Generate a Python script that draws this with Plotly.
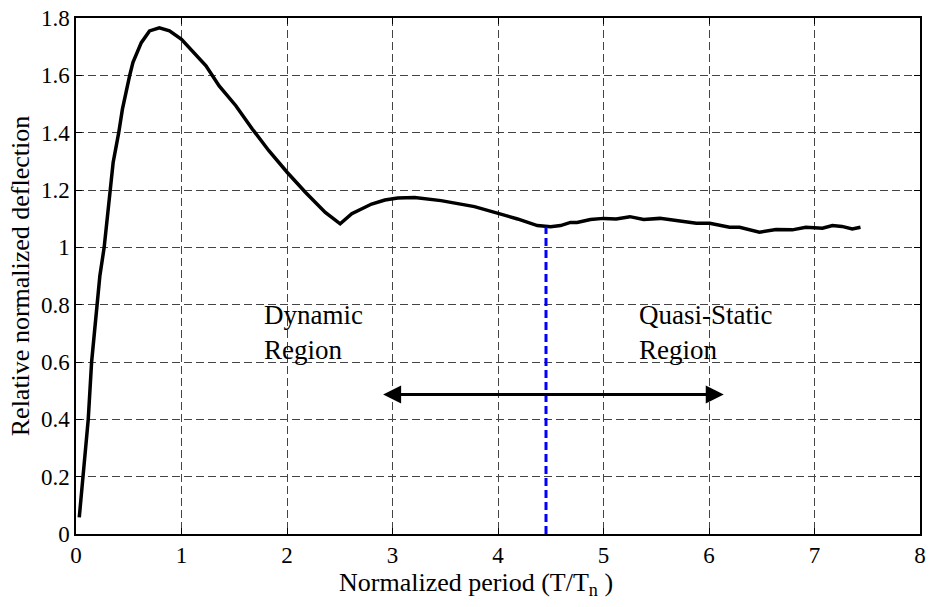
import plotly.graph_objects as go

# Curve data (normalized period vs relative normalized deflection)
period = [0.031, 0.069, 0.116, 0.148, 0.195, 0.226, 0.267, 0.32, 0.352, 0.405, 0.44, 0.509,
          0.54, 0.619, 0.697, 0.79, 0.886, 1.0, 1.106, 1.232, 1.357, 1.515, 1.671, 1.828,
          2.001, 2.174, 2.363, 2.504, 2.614, 2.802, 2.928, 3.05, 3.21, 3.46, 3.777, 4.027,
          4.185, 4.373, 4.499, 4.593, 4.687, 4.75, 4.876, 5.0, 5.12, 5.25, 5.38, 5.535,
          5.69, 5.88, 6.007, 6.195, 6.29, 6.478, 6.635, 6.79, 6.918, 7.075, 7.17, 7.26,
          7.358, 7.436]
deflection = [0.058, 0.20, 0.40, 0.60, 0.80, 0.90, 1.0, 1.2, 1.296, 1.4, 1.482, 1.6,
              1.645, 1.714, 1.755, 1.766, 1.755, 1.726, 1.685, 1.633, 1.563, 1.494, 1.413, 1.337,
              1.262, 1.192, 1.122, 1.082, 1.117, 1.151, 1.165, 1.172, 1.174, 1.163, 1.142, 1.117,
              1.099, 1.076, 1.072, 1.076, 1.087, 1.087, 1.097, 1.101, 1.099, 1.107, 1.097, 1.101,
              1.093, 1.084, 1.084, 1.070, 1.070, 1.053, 1.062, 1.061, 1.070, 1.067, 1.076, 1.073,
              1.064, 1.070]

# Boundary between regions
boundary_x = [4.455, 4.455]
boundary_y = [0.0, 1.072]

# Double arrow
arrow_x = [2.897, 6.14]
arrow_y = 0.487

# Region labels
label_texts = ["Dynamic<br>Region", "Quasi-Static<br>Region"]
label_x = [1.766, 5.316]
label_y = [0.825, 0.825]

x_ticks = [0, 1, 2, 3, 4, 5, 6, 7, 8]
y_ticks = [0, 0.2, 0.4, 0.6, 0.8, 1, 1.2, 1.4, 1.6, 1.8]
y_tick_text = ["0", "0.2", "0.4", "0.6", "0.8", "1", "1.2", "1.4", "1.6", "1.8"]

x_title = "Normalized period (T/T<sub>n</sub> )"
y_title = "Relative normalized deflection"

FONT = "Liberation Serif, Times New Roman, serif"

fig = go.Figure()
fig.add_trace(go.Scatter(x=period, y=deflection, mode="lines",
                         line=dict(color="black", width=3.5), showlegend=False))
fig.add_trace(go.Scatter(x=boundary_x, y=boundary_y, mode="lines",
                         line=dict(color="#0000ff", width=3, dash="8px,4px"), showlegend=False))

# double-headed arrow
fig.add_annotation(x=arrow_x[1], y=arrow_y, ax=arrow_x[0], ay=arrow_y,
                   xref="x", yref="y", axref="x", ayref="y", text="",
                   showarrow=True, arrowhead=2, arrowside="end+start",
                   arrowsize=1.2, arrowwidth=3, arrowcolor="black")

for t, lx, ly in zip(label_texts, label_x, label_y):
    fig.add_annotation(x=lx, y=ly, xref="x", yref="y", text=t, showarrow=False,
                       xanchor="left", yanchor="top", align="left",
                       font=dict(family=FONT, size=27, color="black"))

# x-axis title (placed as in the reference, slightly left of centre)
fig.add_annotation(x=0.474, y=-0.097, xref="paper", yref="paper", text=x_title,
                   showarrow=False, xanchor="center", yanchor="middle",
                   font=dict(family=FONT, size=26, color="black"))

axis_common = dict(showline=True, linecolor="black", linewidth=1.5, mirror="ticks",
                   ticks="inside", ticklen=6, tickcolor="black", tickwidth=1,
                   showgrid=True, gridcolor="#444444", gridwidth=1, griddash="8px,4px",
                   zeroline=False,
                   tickfont=dict(family=FONT, size=23, color="black"))

fig.update_xaxes(range=[0, 8], tickvals=x_ticks, **axis_common)
fig.update_yaxes(range=[0, 1.8], tickvals=y_ticks, ticktext=y_tick_text,
                 title=dict(text=y_title,
                            font=dict(family=FONT, size=26, color="black"), standoff=4),
                 **axis_common)

fig.update_layout(width=932, height=607, margin=dict(l=76, r=6, t=17, b=73),
                  plot_bgcolor="white", paper_bgcolor="white",
                  font=dict(family=FONT, color="black"))

fig.write_html("out.html")
